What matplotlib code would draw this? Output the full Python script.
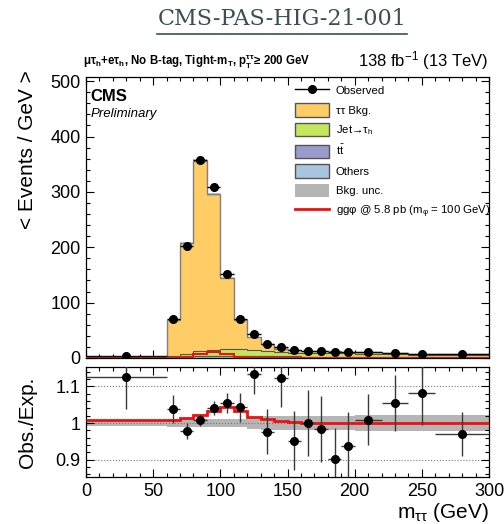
import numpy as np
import matplotlib
matplotlib.use('Agg')
import matplotlib.pyplot as plt
from matplotlib.patches import Patch
from matplotlib.lines import Line2D
from matplotlib.ticker import MultipleLocator, FuncFormatter

plt.rcParams['font.family'] = ['Liberation Sans', 'DejaVu Sans']
plt.rcParams['mathtext.fontset'] = 'custom'
plt.rcParams['mathtext.rm'] = 'Liberation Sans'
plt.rcParams['mathtext.it'] = 'Liberation Sans:italic'
plt.rcParams['mathtext.bf'] = 'Liberation Sans:bold'
plt.rcParams['mathtext.default'] = 'regular'

# ---------------- data (events / GeV) ----------------
bin_edges = [0, 60, 70, 80, 90, 100, 110, 120, 130, 140, 150, 160, 170, 180,
             190, 200, 220, 240, 260, 300]
tautau_bkg = [0.99, 64.4, 199.6, 343.3, 281.2, 127.5, 51.4, 23.6, 13.6, 6.3,
              4.9, 3.4, 3.2, 3.4, 2.7, 2.6, 2.1, 1.5, 1.6]
jet_to_tau = [0.9, 2.5, 5.5, 8.5, 10.5, 12.5, 12.5, 10.5, 8.5, 7.5,
              7.0, 6.5, 6.5, 6.5, 6.3, 5.8, 5.2, 4.4, 3.9]
ttbar = [0.1, 0.3, 0.5, 0.6, 0.7, 0.8, 0.8, 0.8, 0.7, 0.7,
         0.6, 0.6, 0.6, 0.5, 0.5, 0.5, 0.4, 0.4, 0.3]
others = [0.5, 1.2, 2.0, 2.8, 3.2, 3.4, 3.4, 3.0, 2.8, 2.4,
          2.2, 2.0, 1.9, 1.8, 1.7, 1.5, 1.3, 1.1, 0.9]
observed = [2.8, 71, 203, 358, 308, 152, 71, 43, 25, 19,
            14, 12.5, 12, 11, 10.5, 10.5, 9.5, 8.0, 6.5]
signal_ggphi = [0.02, 0.6, 2.7, 7.8, 10.0, 6.5, 2.3, 0.6, 0.28, 0.1,
                0.05, 0.0, 0.0, 0.0, 0.0, 0.0, 0.0, 0.0, 0.0]
bkg_rel_unc = [0.009, 0.01, 0.01, 0.01, 0.01, 0.01, 0.012, 0.015, 0.018, 0.018,
               0.018, 0.018, 0.018, 0.018, 0.018, 0.023, 0.023, 0.023, 0.023]

# colours
c_tt = '#ffcc66'
c_jet = '#c5e65c'
c_ttbar = '#9a9acc'
c_oth = '#a9c4df'
c_unc = '#b5b5b5'
c_sig = '#ee1111'

edges = np.array(bin_edges, float)
widths = np.diff(edges)
centers = 0.5 * (edges[1:] + edges[:-1])
comp = [np.array(others), np.array(ttbar), np.array(jet_to_tau), np.array(tautau_bkg)]
cols = [c_oth, c_ttbar, c_jet, c_tt]
obs = np.array(observed, float)
sig = np.array(signal_ggphi, float)
unc = np.array(bkg_rel_unc, float)
total = np.sum(comp, axis=0)
obs_err = np.sqrt(obs * widths) / widths

W, H = 504, 524
fig = plt.figure(figsize=(W / 100, H / 100), dpi=100)
L, R = 86, 489
ax = fig.add_axes([L / W, 1 - 358 / H, (R - L) / W, (358 - 77.3) / H])
rax = fig.add_axes([L / W, 1 - 477.3 / H, (R - L) / W, (477.3 - 367) / H])

# ---- main panel ----
base = np.zeros_like(total)
for vals, col in zip(comp, cols):
    top = base + vals
    ax.stairs(top, edges, baseline=base, fill=True, color=col, lw=0, zorder=2)
    ax.stairs(top, edges, baseline=None, color='#555555', lw=0.8, zorder=3)
    base = top
ax.stairs(total * (1 + unc), edges, baseline=total * (1 - unc), fill=True,
          color=c_unc, alpha=0.8, lw=0, zorder=3.5)
ax.stairs(total, edges, baseline=None, color='#808080', lw=0.9, zorder=3.6)
ax.stairs(sig, edges, color=c_sig, lw=1.5, zorder=4)
ax.errorbar(centers, obs, xerr=widths / 2, yerr=obs_err, fmt='o', color='k',
            ms=5.5, elinewidth=1.0, capsize=0, zorder=5)

ax.set_xlim(0, 300)
ax.set_ylim(0, 507)
ax.xaxis.set_major_locator(MultipleLocator(50))
ax.xaxis.set_minor_locator(MultipleLocator(10))
ax.yaxis.set_major_locator(MultipleLocator(100))
ax.yaxis.set_minor_locator(MultipleLocator(20))
ax.tick_params(axis='x', labelbottom=False)

# ---- ratio panel ----
ratio = obs / total
ratio_err = obs_err / total
rax.stairs(1 + unc, edges, baseline=1 - unc, fill=True, color=c_unc, lw=0, zorder=1)
for yv in (0.9, 1.0, 1.1):
    rax.axhline(yv, color='#777777', ls=':', lw=0.8, zorder=1.5)
rax.stairs((total + sig) / total, edges, baseline=None, color=c_sig, lw=2, zorder=3)
rax.errorbar(centers, ratio, xerr=widths / 2, yerr=ratio_err, fmt='o', color='k',
             ecolor='#3a3a3a', ms=5.5, elinewidth=1.0, capsize=0, zorder=5)
rax.set_xlim(0, 300)
rax.set_ylim(0.852, 1.153)
rax.xaxis.set_major_locator(MultipleLocator(50))
rax.xaxis.set_minor_locator(MultipleLocator(10))
rax.yaxis.set_major_locator(MultipleLocator(0.1))
rax.yaxis.set_minor_locator(MultipleLocator(0.02))
rax.yaxis.set_major_formatter(FuncFormatter(lambda v, p: f'{v:g}'))

for a in (ax, rax):
    a.tick_params(which='both', direction='in', top=True, right=True, labelsize=13,
                  width=0.8, colors='k')
    a.tick_params(which='major', length=6, pad=4)
    a.tick_params(which='minor', length=3)
    for s in a.spines.values():
        s.set_linewidth(0.9)

# ---- legend ----
handles = [
    Line2D([], [], color='k', marker='o', ms=5.5, lw=1),
    Patch(facecolor=c_tt, edgecolor='#555555', lw=1),
    Patch(facecolor=c_jet, edgecolor='#555555', lw=1),
    Patch(facecolor=c_ttbar, edgecolor='#555555', lw=1),
    Patch(facecolor=c_oth, edgecolor='#555555', lw=1),
    Patch(facecolor=c_unc, edgecolor='none'),
    Line2D([], [], color=c_sig, lw=2),
]
labels = ['Observed', 'ττ Bkg.', r'Jet→τ$_{h}$', r't$\bar{t}$', 'Others', 'Bkg. unc.',
          r'ggφ @ 5.8 pb (m$_{φ}$ = 100 GeV)']
leg = ax.legend(handles, labels, loc='upper left',
                bbox_to_anchor=((295 - L) / (R - L), (358 - 84) / (358 - 77.3)),
                frameon=False, fontsize=8.2, handlelength=3.0, handleheight=1.4,
                handletextpad=0.6, labelspacing=0.55, borderpad=0, borderaxespad=0)

# ---- texts ----
ax.text(0.012, 0.96, 'CMS', transform=ax.transAxes, fontsize=12, fontweight='bold',
        ha='left', va='top')
ax.text(0.012, 0.89, 'Preliminary', transform=ax.transAxes, fontsize=9.5,
        style='italic', ha='left', va='top')

fig.text(83 / W, 1 - 62 / H,
         r'μτ$_{\mathbf{h}}$+eτ$_{\mathbf{h}}$, No B-tag, Tight-m$_{\mathbf{T}}$, p$_{\mathbf{T}}^{\mathbf{ττ}}$≥ 200 GeV',
         fontsize=8.3, fontweight='bold', ha='left', va='center')
fig.text(488 / W, 1 - 61 / H, r'138 fb$^{-1}$ (13 TeV)', fontsize=12, ha='right', va='center')

fig.text(28 / W, 1 - 70 / H, '< Events / GeV >', rotation=90, fontsize=15,
         ha='center', va='top')
fig.text(28 / W, 1 - 422 / H, 'Obs./Exp.', rotation=90, fontsize=15,
         ha='center', va='center')
fig.text(489 / W, 1 - 512 / H, r'm$_{ττ}$ (GeV)', fontsize=15, ha='right', va='center')

# header title
ttl = fig.text(282 / W, 1 - 19 / H, 'CMS-PAS-HIG-21-001', fontsize=16,
               family=['DejaVu Serif'], color='#3c4f57',
               ha='center', va='center')
fig.add_artist(Line2D([157 / W, 407 / W], [1 - 33.5 / H, 1 - 33.5 / H],
                      color='#3c4f57', lw=1.2, transform=fig.transFigure))

fig.savefig('out.png', dpi=100)
